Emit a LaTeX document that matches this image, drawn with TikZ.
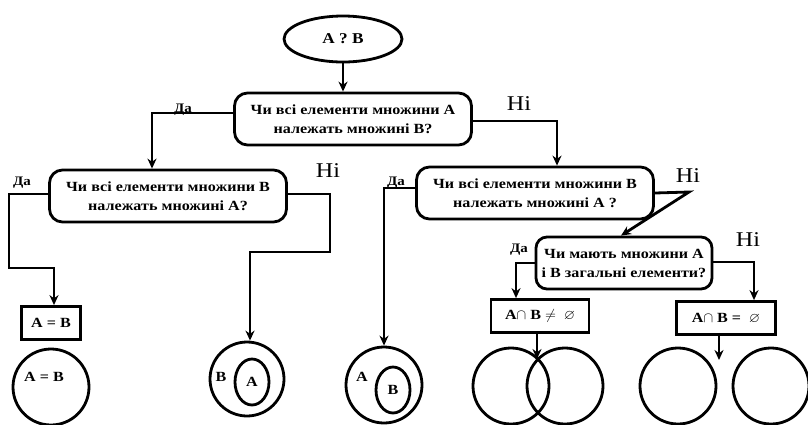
\documentclass[tikz,border=0pt]{standalone}
\usepackage{amssymb}
\usepackage{fontspec}
\setmainfont{Liberation Serif}
\newfontfamily\widefont[FakeStretch=1.15]{Liberation Serif}
\usetikzlibrary{shapes.geometric,arrows.meta,positioning}

\begin{document}
\begin{tikzpicture}[
  x=1pt,y=-1pt,
  line width=2.8pt,
  qbox/.style={
    draw,rounded corners=13pt,align=center,
    font=\widefont\bfseries\fontsize{14}{19}\selectfont,
    minimum width=#1,minimum height=52pt,inner sep=2pt,
    },
  resbox/.style={
    draw,font=\widefont\bfseries\fontsize{14}{16}\selectfont,
    minimum height=33pt,inner sep=4pt,
    },
  setc/.style={draw,circle,minimum size=76pt,inner sep=0pt},
  subset/.style={
    draw,ellipse,minimum width=34pt,minimum height=46pt,inner sep=0pt,
    font=\widefont\bfseries\fontsize{14}{16}\selectfont,
    },
  yes/.style={font=\widefont\bfseries\fontsize{13}{15}\selectfont},
  no/.style={font=\widefont\fontsize{21}{24}\selectfont},
  arr/.style={-{Stealth[length=10pt,width=9pt]}},
  ]
  \useasboundingbox (0,0) rectangle (808,424);

  % start and questions
  \node[draw,ellipse,minimum width=118pt,minimum height=46pt,
    font=\widefont\bfseries\fontsize{15}{18}\selectfont] (start) at (343,39) {A ?\ B};
  \node[qbox=237pt] (q1) at (353,119)
    {Чи всі елементи множини A\\ належать множині B?};
  \node[qbox=237pt] (q2) at (168,196)
    {Чи всі елементи множини B\\ належать множині A?};
  \node[qbox=237pt] (q3) at (535,193)
    {Чи всі елементи множини B\\ належать множині A ?};
  \node[qbox=176pt,rounded corners=11pt,inner sep=1pt] (q4) at (624,263)
    {Чи мають множини A\\ і B загальні елементи?};

  % results
  \node[resbox,minimum width=59pt] (r1) at (51,323) {A = B};
  \node[resbox,minimum width=98pt] (r2) at (540,316)
    {A$\cap$ B $\neq$\ \ $\varnothing$};
  \node[resbox,minimum width=99pt] (r3) at (726,318)
    {A$\cap$ B = \ $\varnothing$};

  % set pictures
  \node[setc] (c1) at (51,387) {};
  \node[font=\widefont\bfseries\fontsize{14}{16}\selectfont] at (44,377) {A = B};
  \node[setc,minimum size=74pt] (c2) at (247,379) {};
  \node[subset] (c2in) at (252,382) {A};
  \node[font=\widefont\bfseries\fontsize{14}{16}\selectfont] at (221,377) {B};
  \node[setc] (c3) at (384,385) {};
  \node[subset] (c3in) at (393,390) {B};
  \node[font=\widefont\bfseries\fontsize{14}{16}\selectfont] at (362,377) {A};
  \node[setc] (v1) at (511,386) {};
  \node[setc] (v2) at (565,386) {};
  \node[setc] (d1) at (678,386) {};
  \node[setc] (d2) at (771,386) {};

  % branch labels
  \node[yes] at (183,110) {Да};
  \node[no] at (519,104) {Ні};
  \node[yes] at (22,183) {Да};
  \node[no] at (328,171) {Ні};
  \node[yes] at (396,183) {Да};
  \node[no] at (688,176) {Ні};
  \node[yes] at (519,250) {Да};
  \node[no] at (748,240) {Ні};

  % bends of the connectors
  \coordinate (k1) at (9,268);
  \coordinate (k2) at (330,252);
  \coordinate (k3) at (689,192);
  \coordinate (vtop) at (537,359);
  \coordinate (gap) at (719,360);

  \draw[arr] (start) -- (start |- q1.north);
  \draw[arr] ([yshift=6pt]q1.west) -| ([xshift=-16pt]q2.north);
  \draw[arr] ([yshift=-2pt]q1.east) -| ([xshift=22pt]q3.north);
  \draw[arr] ([yshift=2pt]q2.west) -| (k1) -| ([xshift=3pt]r1.north);
  \draw[arr] ([yshift=2pt]q2.east) -| (k2) -| ([xshift=3pt]c2.north);
  \draw[arr] ([yshift=5pt]q3.west) -| (c3.north);
  \draw[arr] (q3.east) -- (k3) -- ([xshift=-3pt]q4.north);
  \draw[arr] (q4.west) -| ([xshift=-24pt]r2.north);
  \draw[arr] ([yshift=1pt]q4.east) -| ([xshift=28pt]r3.north);
  \draw[arr] ([xshift=-3pt]r2.south) -- (vtop);
  \draw[arr] ([xshift=-7pt,yshift=3pt]r3.south) -- (gap);
\end{tikzpicture}
\end{document}
